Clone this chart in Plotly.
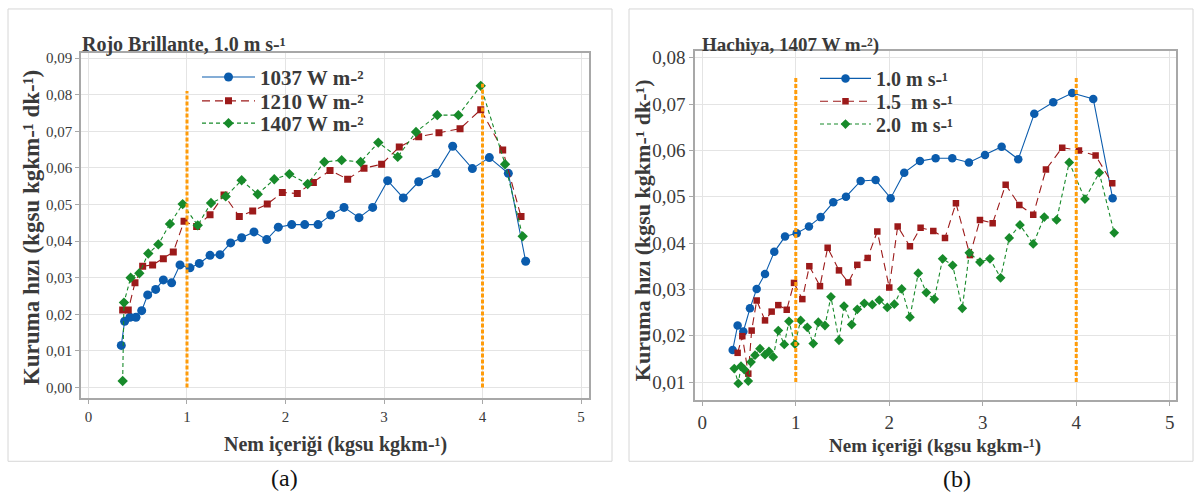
import plotly.graph_objects as go

# ---------------- data: panel (a) Rojo Brillante, 1.0 m s-1 ----------------
x_1037 = [0.333, 0.367, 0.421, 0.482, 0.540, 0.601, 0.682, 0.760, 0.844, 0.929, 1.030, 1.125, 1.234, 1.335, 1.443, 1.555, 1.680, 1.809, 1.927, 2.063, 2.195, 2.330, 2.459, 2.594, 2.746, 2.885, 3.037, 3.196, 3.352, 3.528, 3.697, 3.897, 4.069, 4.262, 4.438]
y_1037 = [0.0115, 0.0181, 0.0192, 0.0192, 0.0210, 0.0253, 0.0268, 0.0294, 0.0286, 0.0335, 0.0327, 0.0339, 0.0361, 0.0363, 0.0395, 0.0409, 0.0425, 0.0404, 0.0438, 0.0445, 0.0445, 0.0445, 0.0471, 0.0492, 0.0464, 0.0492, 0.0565, 0.0518, 0.0562, 0.0585, 0.0659, 0.0598, 0.0628, 0.0585, 0.0345]
x_1210 = [0.347, 0.404, 0.472, 0.550, 0.651, 0.760, 0.861, 0.970, 1.098, 1.234, 1.376, 1.531, 1.667, 1.815, 1.968, 2.120, 2.283, 2.452, 2.631, 2.797, 2.976, 3.155, 3.352, 3.558, 3.772, 3.982, 4.205, 4.391]
y_1210 = [0.0212, 0.0212, 0.0286, 0.0331, 0.0335, 0.0352, 0.0370, 0.0454, 0.0440, 0.0472, 0.0526, 0.0467, 0.0482, 0.0501, 0.0533, 0.0530, 0.0560, 0.0593, 0.0569, 0.0599, 0.0610, 0.0657, 0.0685, 0.0696, 0.0707, 0.0759, 0.0649, 0.0467]
x_1407 = [0.347, 0.360, 0.428, 0.516, 0.607, 0.709, 0.827, 0.956, 1.109, 1.244, 1.393, 1.555, 1.718, 1.886, 2.039, 2.225, 2.394, 2.570, 2.763, 2.942, 3.139, 3.325, 3.541, 3.755, 3.982, 4.229, 4.408]
y_1407 = [0.0018, 0.0232, 0.0300, 0.0312, 0.0366, 0.0391, 0.0447, 0.0501, 0.0443, 0.0504, 0.0522, 0.0566, 0.0528, 0.0569, 0.0583, 0.0556, 0.0616, 0.0621, 0.0616, 0.0669, 0.0630, 0.0698, 0.0744, 0.0744, 0.0824, 0.0610, 0.0413]
crit_x_a = [1, 4]
crit_bottom_a = [0.0, 0.0]
crit_top_a = [0.081, 0.083]

# ---------------- data: panel (b) Hachiya, 1407 W m-2 ----------------
x_10 = [0.325, 0.378, 0.439, 0.510, 0.582, 0.671, 0.770, 0.885, 1.010, 1.141, 1.266, 1.401, 1.537, 1.694, 1.854, 2.015, 2.160, 2.328, 2.496, 2.674, 2.852, 3.024, 3.202, 3.380, 3.551, 3.754, 3.957, 4.182, 4.389]
y_10 = [0.0169, 0.0222, 0.0209, 0.0259, 0.0301, 0.0333, 0.0381, 0.0414, 0.0421, 0.0436, 0.0456, 0.0488, 0.0500, 0.0534, 0.0536, 0.0497, 0.0552, 0.0577, 0.0583, 0.0583, 0.0574, 0.0590, 0.0608, 0.0581, 0.0679, 0.0704, 0.0724, 0.0711, 0.0497]
x_15 = [0.378, 0.428, 0.492, 0.528, 0.582, 0.671, 0.742, 0.813, 0.903, 0.981, 1.070, 1.145, 1.259, 1.341, 1.462, 1.562, 1.658, 1.769, 1.872, 2.000, 2.090, 2.221, 2.335, 2.471, 2.596, 2.713, 2.863, 2.970, 3.106, 3.245, 3.391, 3.540, 3.676, 3.850, 4.029, 4.207, 4.385]
y_15 = [0.0163, 0.0199, 0.0118, 0.0211, 0.0276, 0.0233, 0.0252, 0.0266, 0.0256, 0.0314, 0.0279, 0.0350, 0.0307, 0.0390, 0.0341, 0.0315, 0.0353, 0.0368, 0.0425, 0.0304, 0.0436, 0.0393, 0.0433, 0.0426, 0.0411, 0.0486, 0.0374, 0.0450, 0.0443, 0.0526, 0.0482, 0.0461, 0.0559, 0.0606, 0.0600, 0.0589, 0.0529]
x_20 = [0.342, 0.385, 0.414, 0.449, 0.492, 0.521, 0.564, 0.617, 0.671, 0.713, 0.759, 0.813, 0.877, 0.927, 0.991, 1.052, 1.123, 1.187, 1.241, 1.312, 1.376, 1.462, 1.516, 1.598, 1.658, 1.733, 1.818, 1.893, 1.979, 2.054, 2.133, 2.221, 2.310, 2.396, 2.481, 2.571, 2.678, 2.781, 2.856, 2.970, 3.077, 3.191, 3.283, 3.398, 3.540, 3.658, 3.790, 3.925, 4.093, 4.246, 4.406]
y_20 = [0.0129, 0.0097, 0.0134, 0.0127, 0.0102, 0.0143, 0.0158, 0.0172, 0.0159, 0.0166, 0.0154, 0.0211, 0.0181, 0.0231, 0.0182, 0.0233, 0.0218, 0.0183, 0.0229, 0.0222, 0.0284, 0.0190, 0.0264, 0.0224, 0.0257, 0.0270, 0.0267, 0.0277, 0.0261, 0.0268, 0.0301, 0.0240, 0.0335, 0.0293, 0.0279, 0.0366, 0.0352, 0.0259, 0.0379, 0.0359, 0.0366, 0.0325, 0.0411, 0.0439, 0.0398, 0.0456, 0.0450, 0.0574, 0.0495, 0.0552, 0.0422]
crit_x_b = [1, 4]
crit_bottom_b = [0.01, 0.01]
crit_top_b = [0.076, 0.076]

x_ticks = [0, 1, 2, 3, 4, 5]
y_ticks_a = [0.00, 0.01, 0.02, 0.03, 0.04, 0.05, 0.06, 0.07, 0.08, 0.09]
y_ticks_b = [0.01, 0.02, 0.03, 0.04, 0.05, 0.06, 0.07, 0.08]

names_a = ["1037 W m-²", "1210 W m-²", "1407 W m-²"]
names_b = ["1.0 m s-¹", "1.5\u00a0 m s-¹", "2.0\u00a0 m s-¹"]

# ---------------- styling ----------------
W, H = 1200, 494
SERIF = "Liberation Serif, Times New Roman, serif"
BLUE, RED, GREEN, ORANGE = "#0b5cad", "#9c1a1a", "#178a2a", "#ff9c0a"
TXT = "#3a3a3a"

def px_x(p):
    return p / W

def px_y(p):
    return 1 - p / H

fig = go.Figure()

def add_series(x, y, name, color, symbol, size, dash, xa, ya, legend):
    fig.add_trace(go.Scatter(
        x=x, y=y, name=name, mode="lines+markers",
        line=dict(color=color, width=1.1, dash=dash),
        marker=dict(color=color, symbol=symbol, size=size),
        xaxis=xa, yaxis=ya, legend=legend))

add_series(x_1037, y_1037, names_a[0], BLUE, "circle", 9, "solid", "x", "y", "legend")
add_series(x_1210, y_1210, names_a[1], RED, "square", 7, "8px,5px", "x", "y", "legend2")
add_series(x_1407, y_1407, names_a[2], GREEN, "diamond", 8, "4px,3px", "x", "y", "legend3")

add_series(x_10, y_10, names_b[0], BLUE, "circle", 8.5, "solid", "x2", "y2", "legend4")
add_series(x_15, y_15, names_b[1], RED, "square", 6.5, "8px,5px", "x2", "y2", "legend5")
add_series(x_20, y_20, names_b[2], GREEN, "diamond", 7.5, "4px,3px", "x2", "y2", "legend6")

for xs, lo, hi, xa, ya in [(crit_x_a, crit_bottom_a, crit_top_a, "x", "y"),
                           (crit_x_b, crit_bottom_b, crit_top_b, "x2", "y2")]:
    for xv, b, t in zip(xs, lo, hi):
        fig.add_trace(go.Scatter(
            x=[xv, xv], y=[b, t], mode="lines", showlegend=False, hoverinfo="skip",
            line=dict(color=ORANGE, width=3, dash="4px,2px"), xaxis=xa, yaxis=ya))

axis_common = dict(
    showline=True, mirror=True, linecolor="#a8a8a8", linewidth=1.5,
    showgrid=True, gridcolor="#e4e4e4", gridwidth=1, zeroline=False,
    ticks="outside", ticklen=4, tickcolor="#a8a8a8", tickwidth=1,
)

def one_legend(xp, yp, size, itemwidth):
    return dict(x=px_x(xp), y=px_y(yp), xanchor="left", yanchor="middle",
                bgcolor="rgba(0,0,0,0)", itemwidth=itemwidth, tracegroupgap=0,
                font=dict(size=size, family=SERIF, color=TXT, weight="bold"))

legend_rows_a = [74, 98, 120.5]
legend_rows_b = [75, 98, 121]

fig.update_layout(
    width=W, height=H, autosize=False,
    margin=dict(l=0, r=0, t=0, b=0),
    paper_bgcolor="white", plot_bgcolor="white",
    separators=",.",
    font=dict(family=SERIF, color=TXT),
    xaxis=dict(domain=[px_x(81), px_x(589)], range=[-0.076, 5.081], tickvals=x_ticks,
               anchor="y", tickfont=dict(size=15, family=SERIF, color=TXT), **axis_common),
    yaxis=dict(domain=[px_y(397), px_y(49.3)], range=[-0.0028, 0.0914], tickvals=y_ticks_a,
               tickformat=".2f", anchor="x", tickfont=dict(size=15, family=SERIF, color=TXT), **axis_common),
    xaxis2=dict(domain=[px_x(695), px_x(1176)], range=[-0.078, 5.067], tickvals=x_ticks,
                anchor="y2", tickfont=dict(size=19, family=SERIF, color=TXT), **axis_common),
    yaxis2=dict(domain=[px_y(399.3), px_y(47.7)], range=[0.0061, 0.0814], tickvals=y_ticks_b,
                tickformat=".2f", anchor="x2", tickfont=dict(size=19, family=SERIF, color=TXT), **axis_common),
    legend=one_legend(197, legend_rows_a[0], 21, 53),
    legend2=one_legend(197, legend_rows_a[1], 21, 53),
    legend3=one_legend(197, legend_rows_a[2], 21, 53),
    legend4=one_legend(815, legend_rows_b[0], 20, 51),
    legend5=one_legend(815, legend_rows_b[1], 20, 51),
    legend6=one_legend(815, legend_rows_b[2], 20, 51),
    showlegend=True,
)

annots = [
    dict(text="<b>Rojo Brillante, 1.0 m s-¹</b>", x=px_x(80), y=px_y(41), xanchor="left", yanchor="middle", size=20),
    dict(text="<b>Hachiya, 1407 W m-²)</b>", x=px_x(700), y=px_y(41), xanchor="left", yanchor="middle", size=19),
    dict(text="<b>Kuruma hızı (kgsu kgkm-¹ dk-¹)</b>", x=px_x(31), y=px_y(226), xanchor="center", yanchor="middle", size=23, angle=-90),
    dict(text="<b>Kuruma hızı (kgsu kgkm-¹ dk-¹)</b>", x=px_x(642), y=px_y(228), xanchor="center", yanchor="middle", size=22, angle=-90),
    dict(text="<b>Nem içeriği (kgsu kgkm-¹)</b>", x=px_x(335), y=px_y(444), xanchor="center", yanchor="middle", size=20),
    dict(text="<b>Nem içeriği (kgsu kgkm-¹)</b>", x=px_x(935), y=px_y(446), xanchor="center", yanchor="middle", size=19),
    dict(text="(a)", x=px_x(284), y=px_y(478), xanchor="center", yanchor="middle", size=24, color="#111111"),
    dict(text="(b)", x=px_x(957), y=px_y(479), xanchor="center", yanchor="middle", size=24, color="#111111"),
]
for a in annots:
    fig.add_annotation(text=a["text"], x=a["x"], y=a["y"], xref="paper", yref="paper",
                       xanchor=a["xanchor"], yanchor=a["yanchor"], showarrow=False,
                       textangle=a.get("angle", 0),
                       font=dict(family=SERIF, size=a["size"], color=a.get("color", TXT)))

# panel frames
for x0, x1 in [(8, 612), (629, 1193)]:
    fig.add_shape(type="rect", xref="paper", yref="paper",
                  x0=px_x(x0), x1=px_x(x1), y0=px_y(461), y1=px_y(5),
                  line=dict(color="#d6d6d6", width=1), layer="below")

fig.write_html("out.html", config={"displayModeBar": False},
               post_script="document.body.style.margin='0px';document.body.style.overflow='hidden';")
